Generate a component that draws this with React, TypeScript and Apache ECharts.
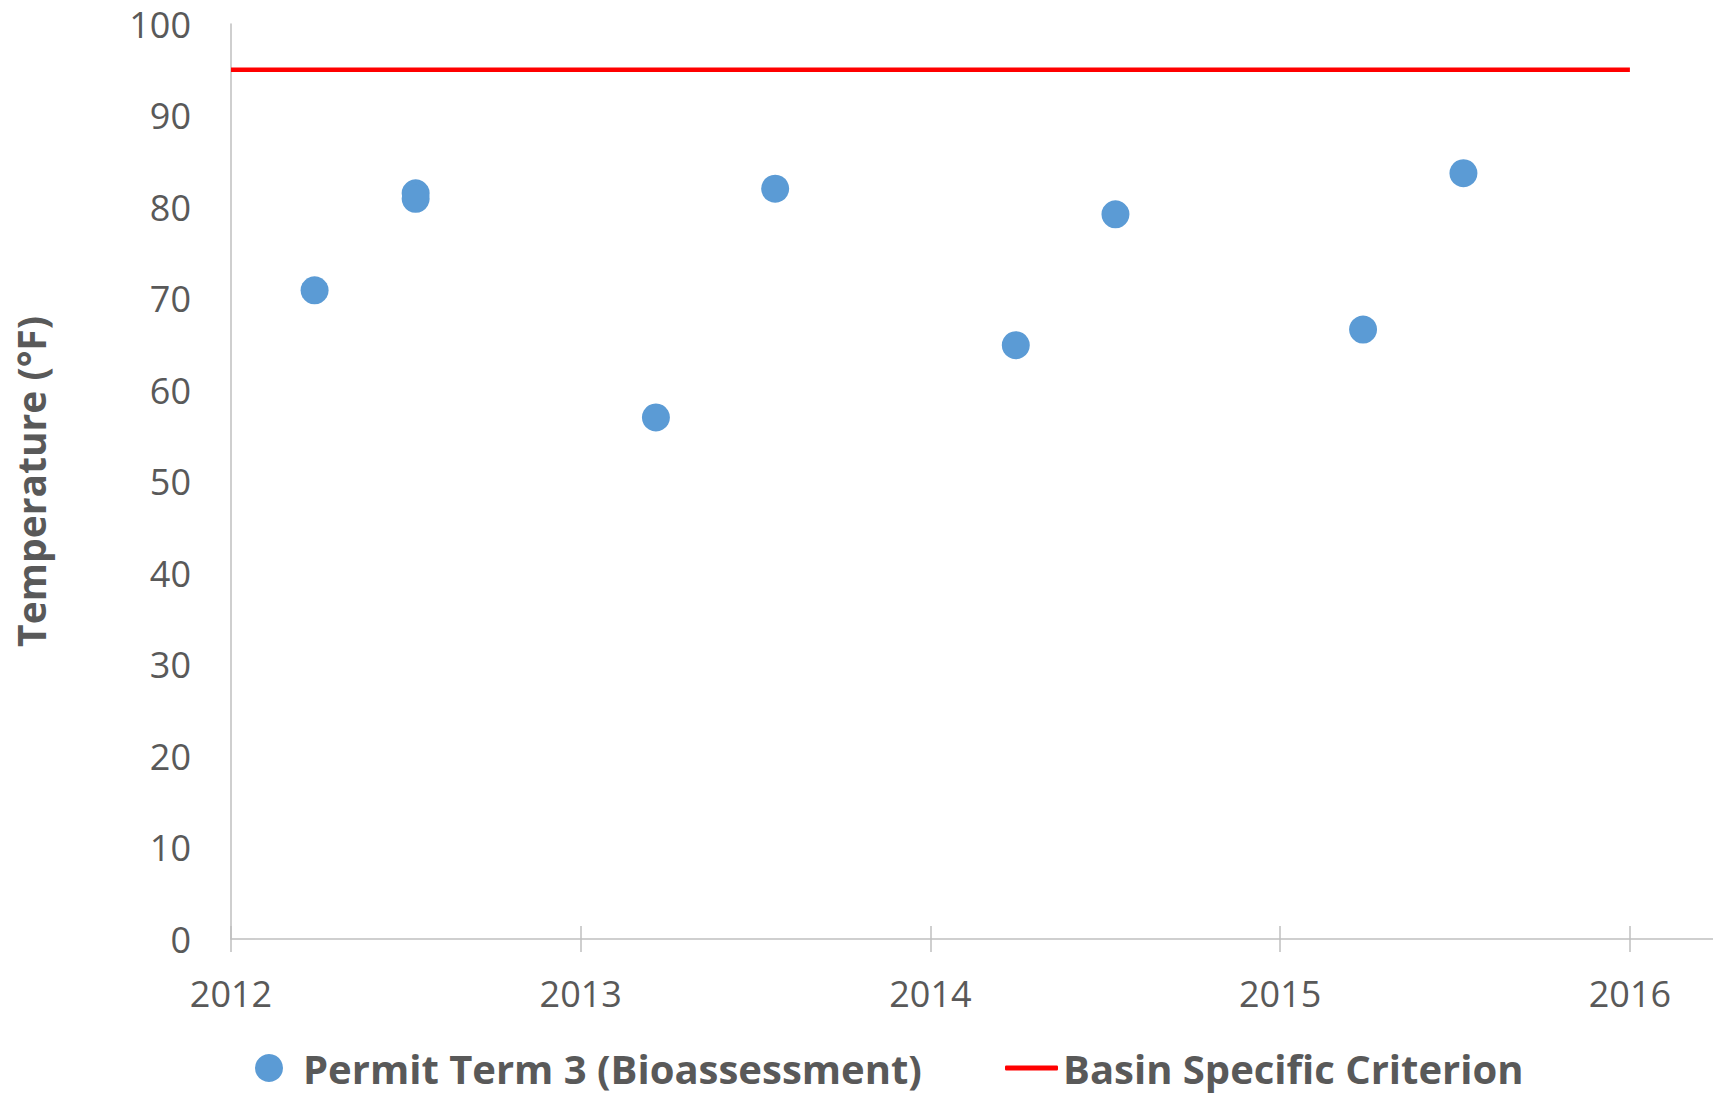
import React, { useEffect, useRef } from "react";
import * as echarts from "echarts";

// ---- data ----
const sampleDates = [2012.239, 2012.528, 2012.528, 2013.215, 2013.556, 2014.244, 2014.529, 2015.237, 2015.524];
const sampleTemps = [70.9, 81.5, 80.9, 57.0, 82.0, 64.9, 79.2, 66.6, 83.7];
const criterionYears = [2012, 2016];
const criterionTemps = [95, 95];
const yearTicks = [2012, 2013, 2014, 2015, 2016];
const seriesNames = ["Permit Term 3 (Bioassessment)", "Basin Specific Criterion"];
const yAxisTitle = "Temperature (°F)";

const TEXT = "#595959";
const AXIS = "#bfbfbf";
const FONT = "'Open Sans', 'Noto Sans', sans-serif";

export default function App() {
  const ref = useRef<HTMLDivElement>(null);
  useEffect(() => {
    if (!ref.current) return;
    const chart = echarts.init(ref.current, null, { renderer: "svg" });
    const xMax = 2016.2376;
    const baseX = {
      type: "value",
      min: 2012,
      max: xMax,
      interval: 1,
      position: "bottom",
      splitLine: { show: false },
    };
    chart.setOption({
      animation: false,
      backgroundColor: "#ffffff",
      grid: { left: 231, right: 0, top: 24, bottom: 156, containLabel: false, outerBoundsMode: "none" },
      xAxis: [
        {
          ...baseX,
          axisLine: { show: true, lineStyle: { color: AXIS, width: 1.5 } },
          axisTick: { show: true, inside: false, length: 13, lineStyle: { color: AXIS, width: 1.5 }, customValues: yearTicks },
          axisLabel: {
            show: true,
            margin: 36,
            color: TEXT,
            fontFamily: FONT,
            fontSize: 36,
            customValues: yearTicks,
            formatter: (v: number) => (Number.isInteger(v) ? String(v) : ""),
          },
        },
        {
          ...baseX,
          axisLine: { show: false },
          axisTick: { show: true, inside: true, length: 13, lineStyle: { color: AXIS, width: 1.5 }, customValues: yearTicks },
          axisLabel: { show: false },
        },
      ],
      yAxis: {
        type: "value",
        min: 0,
        max: 100,
        interval: 10,
        name: yAxisTitle,
        nameLocation: "middle",
        nameGap: 181,
        nameRotate: 90,
        nameTextStyle: { color: TEXT, fontFamily: FONT, fontSize: 39, fontWeight: "bold" },
        axisLine: { show: true, lineStyle: { color: AXIS, width: 1.5 } },
        axisTick: { show: false },
        splitLine: { show: false },
        axisLabel: { margin: 40, color: TEXT, fontFamily: FONT, fontSize: 36 },
      },
      legend: [
        {
          data: [{ name: seriesNames[0], icon: "circle" }],
          left: 255,
          top: 1048,
          itemWidth: 28,
          itemHeight: 28,
          padding: 0,
          textStyle: { color: TEXT, fontFamily: FONT, fontSize: 40, lineHeight: 40, fontWeight: "bold", padding: [0, 0, 0, 15] },
        },
        {
          data: [{ name: seriesNames[1], icon: "roundRect" }],
          left: 1005,
          top: 1048,
          itemWidth: 53,
          itemHeight: 5,
          padding: 0,
          itemStyle: { color: "#ff0000", borderWidth: 0 },
          textStyle: { color: TEXT, fontFamily: FONT, fontSize: 40, lineHeight: 40, fontWeight: "bold" },
        },
      ],
      series: [
        {
          name: seriesNames[0],
          type: "scatter",
          xAxisIndex: 0,
          symbol: "circle",
          symbolSize: 28,
          itemStyle: { color: "#5b9bd5", opacity: 1 },
          data: sampleDates.map((d, i) => [d, sampleTemps[i]]),
          z: 3,
        },
        {
          name: seriesNames[1],
          type: "line",
          xAxisIndex: 0,
          symbol: "none",
          lineStyle: { color: "#ff0000", width: 4.5 },
          itemStyle: { color: "#ff0000" },
          data: criterionYears.map((d, i) => [d, criterionTemps[i]]),
          z: 2,
        },
      ],
    });
    return () => chart.dispose();
  }, []);
  return (
    <div
      ref={ref}
      style={{ position: "absolute", left: 0, top: 0, width: 1713, height: 1095, background: "#fff" }}
    />
  );
}
